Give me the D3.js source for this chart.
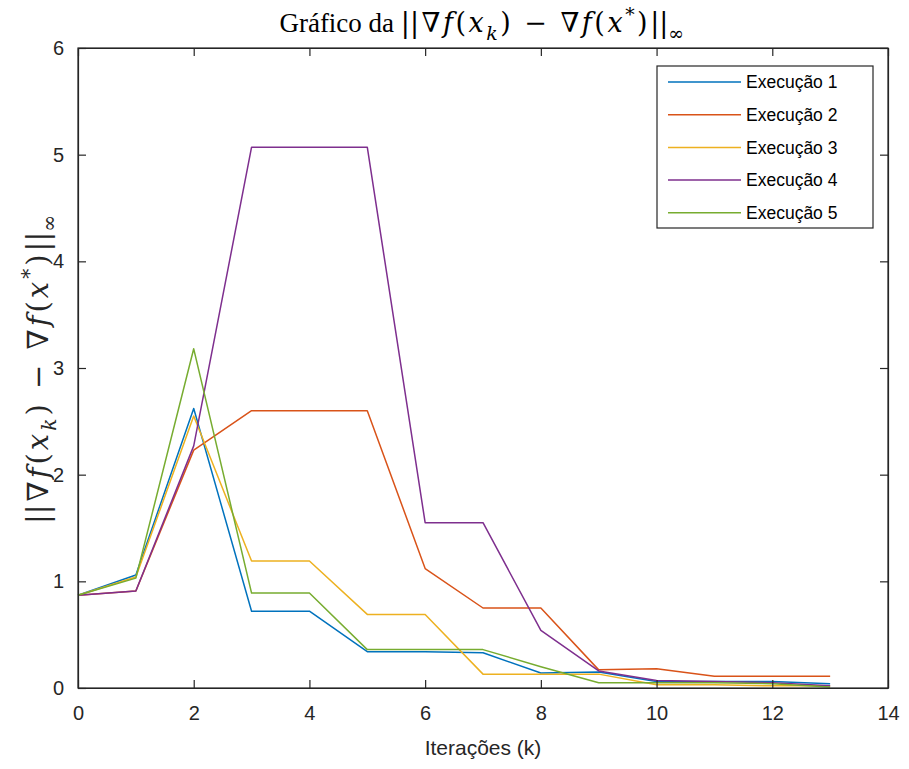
<!DOCTYPE html>
<html>
<head>
<meta charset="utf-8">
<script src="https://cdn.jsdelivr.net/npm/d3@7"></script>
<style>
  html, body { margin: 0; padding: 0; background: #fff; }
  svg { display: block; }
  .tick text { font-family: "Liberation Sans", Arial, sans-serif; font-size: 20px; fill: #262626; }
</style>
</head>
<body>
<svg id="chart" width="909" height="769"></svg>
<script>
// Iteration index k
const iterations = [0, 1, 2, 3, 4, 5, 6, 7, 8, 9, 10, 11, 12, 13];

// ||grad f(x_k) - grad f(x*)||_inf for each run
const exec1 = [0.87, 1.06, 2.62, 0.72, 0.72, 0.34, 0.34, 0.33, 0.14, 0.15, 0.06, 0.06, 0.06, 0.04];
const exec2 = [0.87, 0.91, 2.23, 2.60, 2.60, 2.60, 1.12, 0.75, 0.75, 0.17, 0.18, 0.11, 0.11, 0.11];
const exec3 = [0.87, 1.04, 2.55, 1.19, 1.19, 0.69, 0.69, 0.13, 0.13, 0.13, 0.03, 0.03, 0.02, 0.02];
const exec4 = [0.87, 0.91, 2.27, 5.07, 5.07, 5.07, 1.55, 1.55, 0.54, 0.16, 0.07, 0.06, 0.05, 0.02];
const exec5 = [0.87, 1.03, 3.18, 0.89, 0.89, 0.36, 0.36, 0.36, 0.20, 0.05, 0.05, 0.05, 0.04, 0.01];

const seriesNames = ["Execução 1", "Execução 2", "Execução 3", "Execução 4", "Execução 5"];
const seriesColors = ["#0072BD", "#D95319", "#EDB120", "#7E2F8E", "#77AC30"];
const seriesValues = [exec1, exec2, exec3, exec4, exec5];

const xTicks = [0, 2, 4, 6, 8, 10, 12, 14];
const yTicks = [0, 1, 2, 3, 4, 5, 6];

const svg = d3.select("#chart");
const margin = { left: 78, right: 21, top: 48, bottom: 81 };
const W = 909, H = 769;
const x = d3.scaleLinear().domain([0, 14]).range([margin.left, W - margin.right]);
const y = d3.scaleLinear().domain([0, 6]).range([H - margin.bottom, margin.top]);

const axisColor = "#262626";
const tickLen = 8;

// Data lines (drawn first so the frame sits on top)
const line = d3.line().x((d, i) => x(iterations[i])).y(d => y(d));
seriesValues.forEach((vals, i) => {
  svg.append("path")
    .datum(vals)
    .attr("fill", "none")
    .attr("stroke", seriesColors[i])
    .attr("stroke-width", 1.5)
    .attr("stroke-linejoin", "round")
    .attr("d", line);
});

// Bottom axis with inward ticks
const gx = svg.append("g")
  .attr("transform", `translate(0,${y(0)})`)
  .call(d3.axisBottom(x).tickValues(xTicks).tickFormat(d3.format("d"))
    .tickSizeInner(-tickLen).tickSizeOuter(0).tickPadding(18));
gx.selectAll("text").attr("dy", "0.71em");

// Top axis (ticks only)
const gxt = svg.append("g")
  .attr("transform", `translate(0,${y(6)})`)
  .call(d3.axisTop(x).tickValues(xTicks).tickSizeInner(-tickLen).tickSizeOuter(0).tickFormat(""));

// Left axis with inward ticks
const gy = svg.append("g")
  .attr("transform", `translate(${x(0)},0)`)
  .call(d3.axisLeft(y).tickValues(yTicks).tickFormat(d3.format("d"))
    .tickSizeInner(-tickLen).tickSizeOuter(0).tickPadding(14));

// Right axis (ticks only)
const gyr = svg.append("g")
  .attr("transform", `translate(${x(14)},0)`)
  .call(d3.axisRight(y).tickValues(yTicks).tickSizeInner(-tickLen).tickSizeOuter(0).tickFormat(""));

[gx, gxt, gy, gyr].forEach(g => {
  g.select(".domain").attr("stroke", axisColor).attr("stroke-width", 1.2);
  g.selectAll(".tick line").attr("stroke", axisColor).attr("stroke-width", 1.2);
});

// Frame
svg.append("rect")
  .attr("x", x(0)).attr("y", y(6))
  .attr("width", x(14) - x(0)).attr("height", y(0) - y(6))
  .attr("fill", "none").attr("stroke", axisColor).attr("stroke-width", 1.2);

// X label
svg.append("text")
  .attr("x", (x(0) + x(14)) / 2).attr("y", 755)
  .attr("text-anchor", "middle")
  .attr("font-family", "Liberation Sans, Arial, sans-serif")
  .attr("font-size", 21).attr("fill", axisColor)
  .text("Iterações (k)");

// Math-style text helper: pieces [text, italic, shift, plain, tight].
// A sub/superscript shifts with dy and the next piece shifts back.
const mathFont = "DejaVu Serif, Liberation Serif, serif";
function mathText(sel, pieces, size, spacing) {
  let pending = 0;
  pieces.forEach(([t, it, sh, plain, tight]) => {
    const ts = sel.append("tspan").text(t);
    if (!plain) ts.attr("font-family", mathFont).attr("letter-spacing", tight ? 0 : spacing);
    if (it) ts.attr("font-style", "italic");
    let dy = pending;
    pending = 0;
    if (sh === "sub") { ts.attr("font-size", size * 0.7); dy += size * 0.28; pending = -size * 0.28; }
    if (sh === "sup") { ts.attr("font-size", size * 0.7); dy += -size * 0.4; pending = size * 0.4; }
    if (dy !== 0) ts.attr("dy", dy);
  });
}

const normPieces = [
  ["|", false, null, false, true], ["|", false, null],
  ["∇", false, null], ["f", true, null], ["(", false, null], ["x", true, null], ["k", true, "sub"],
  [") − ∇", false, null], ["f", true, null], ["(", false, null], ["x", true, null], ["*", false, "sup"],
  [")", false, null], ["|", false, null, false, true], ["|", false, null, false, true], ["∞", false, "sub"]
];

// Title
const title = svg.append("text")
  .attr("x", (x(0) + x(14)) / 2).attr("y", 32)
  .attr("text-anchor", "middle")
  .attr("font-family", "Liberation Serif, serif")
  .attr("font-size", 27).attr("fill", "#000");
mathText(title, [["Gráfico da ", false, null, true]].concat(normPieces), 27, 2.5);

// Y label
const ylab = svg.append("text")
  .attr("transform", `translate(48,${(y(0) + y(6)) / 2}) rotate(-90)`)
  .attr("text-anchor", "middle")
  .attr("font-family", "Liberation Serif, serif")
  .attr("font-size", 29).attr("fill", axisColor);
mathText(ylab, normPieces, 29, 3);

// Legend
const lg = svg.append("g");
const lgX = 657, lgY = 66, lgW = 216, lgH = 162;
lg.append("rect")
  .attr("x", lgX).attr("y", lgY).attr("width", lgW).attr("height", lgH)
  .attr("fill", "#fff").attr("stroke", axisColor).attr("stroke-width", 1.2);
seriesNames.forEach((name, i) => {
  const cy = lgY + 16 + i * 32.7;
  lg.append("line")
    .attr("x1", lgX + 11).attr("x2", lgX + 84)
    .attr("y1", cy).attr("y2", cy)
    .attr("stroke", seriesColors[i]).attr("stroke-width", 1.5);
  lg.append("text")
    .attr("x", lgX + 89).attr("y", cy).attr("dy", "0.35em")
    .attr("font-family", "Liberation Sans, Arial, sans-serif")
    .attr("font-size", 17.5).attr("fill", "#000")
    .text(name);
});
</script>
</body>
</html>
